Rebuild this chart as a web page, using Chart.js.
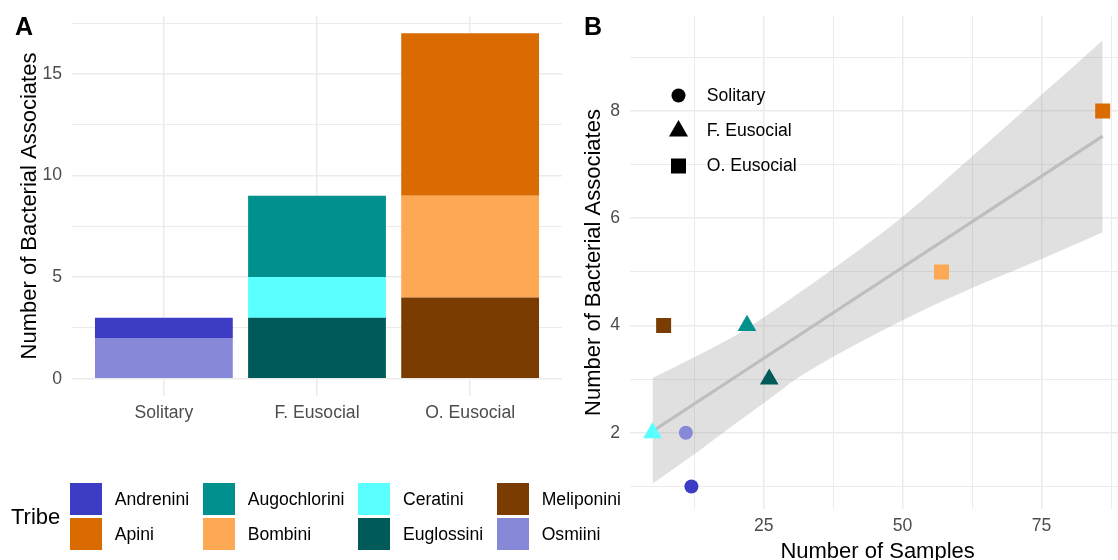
<!DOCTYPE html>
<html><head><meta charset="utf-8">
<script src="https://cdn.jsdelivr.net/npm/chart.js@4.4.1/dist/chart.umd.min.js"></script>
<style>
html,body{margin:0;padding:0;background:#fff;}
body{width:1118px;height:560px;overflow:hidden;position:relative;font-family:"Liberation Sans",Arial,sans-serif;}
#cA{position:absolute;left:0;top:0;}
#cB{position:absolute;left:570px;top:0;}
.tag{position:absolute;font-weight:bold;font-size:25px;line-height:25px;color:#000;}
#legA{position:absolute;left:11px;top:483px;display:flex;align-items:center;color:#000;}
#legA .ttl{font-size:22px;margin-right:10px;}
#legA .grid{display:grid;grid-template-rows:32.3px 32.3px;row-gap:2.7px;grid-auto-flow:column;column-gap:14px;}
#legA .item{display:flex;align-items:center;font-size:17.6px;}
#legA .key{width:32px;height:32.3px;margin-right:12.5px;}
</style></head>
<body>
<canvas id="cA" width="570" height="440"></canvas>
<canvas id="cB" width="566" height="566"></canvas>
<div class="tag" style="left:15px;top:14px;">A</div>
<div class="tag" style="left:584px;top:14px;">B</div>
<div id="legA"></div>
<script>
// ---------- data ----------
const tribes = ['Andrenini','Apini','Augochlorini','Bombini','Ceratini','Euglossini','Meliponini','Osmiini'];
const tribeColors = ['#3C3CC4','#D96B00','#00918E','#FDA852','#5AFFFF','#005A5A','#7A3C00','#8888D8'];
const socialityCats = ['Solitary','F. Eusocial','O. Eusocial'];
const socialityShapes = ['circle','triangle','rect'];

// bacterial associates per tribe, by sociality [Solitary, F. Eusocial, O. Eusocial]
const countsAndrenini    = [1,0,0];
const countsApini        = [0,0,8];
const countsAugochlorini = [0,4,0];
const countsBombini      = [0,0,5];
const countsCeratini     = [0,2,0];
const countsEuglossini   = [0,3,0];
const countsMeliponini   = [0,0,4];
const countsOsmiini      = [2,0,0];
const tribeCounts = [countsAndrenini,countsApini,countsAugochlorini,countsBombini,countsCeratini,countsEuglossini,countsMeliponini,countsOsmiini];

// panel B: per tribe
const tribeSociality = ['Solitary','O. Eusocial','F. Eusocial','O. Eusocial','F. Eusocial','F. Eusocial','O. Eusocial','Solitary'];
const tribeSamples   = [12, 86, 22, 57, 5, 26, 7, 11];
const tribeAssociates= [1, 8, 4, 5, 2, 3, 4, 2];

// fitted line and confidence band
const fitX = [5, 86];
const fitY = [2.03, 7.53];
const bandX     = [5,    12.5, 20,   25,   31.25, 37.5, 50,   62.5, 75,   86];
const bandUpper = [3.02, 3.41, 3.82, 4.15, 4.6,   5.06, 6.03, 7.15, 8.3,  9.32];
const bandLower = [1.05, 1.6,  2.18, 2.55, 3.03,  3.42, 4.1,  4.7,  5.24, 5.74];

// ticks
const yMajorA = [0,5,10,15];
const yMinorA = [2.5,7.5,12.5,17.5];
const xMajorB = [25,50,75];
const xMinorB = [12.5,37.5,62.5,87.5];
const yMajorB = [2,4,6,8];
const yMinorB = [1,3,5,7,9];

// ---------- style ----------
const FAM = '"Liberation Sans", Arial, sans-serif';
Chart.defaults.font.family = FAM;
const GRID = '#EBEBEB';
const TICKC = '#4D4D4D';
const sortNum = a => a.slice().sort((p,q)=>p-q);
const noPad = s => { s.paddingTop = 0; s.paddingBottom = 0; s.paddingLeft = 0; s.paddingRight = 0; };

// ---------- panel A ----------
const barDatasets = tribes.map((t,i)=>({
  label: t,
  data: tribeCounts[i].map((v,j)=>({x:j+1, y:v})),
  backgroundColor: tribeColors[i],
  borderWidth: 0
})).reverse();

new Chart(document.getElementById('cA'), {
  type: 'bar',
  data: { datasets: barDatasets },
  options: {
    responsive:false, animation:false,
    layout:{padding:{top:16,right:8,left:0,bottom:0}},
    plugins:{legend:{display:false}, tooltip:{enabled:false}},
    datasets:{bar:{barPercentage:0.9, categoryPercentage:1}},
    scales:{
      x:{type:'linear', stacked:true, min:0.4, max:3.6, offset:false,
        grid:{offset:false, color:GRID, lineWidth:1.5, drawTicks:false},
        border:{display:false},
        afterBuildTicks: s => { s.ticks = socialityCats.map((c,i)=>({value:i+1})); },
        ticks:{autoSkip:false, maxRotation:0, padding:7, color:TICKC, font:{size:17.6},
          callback: v => socialityCats[v-1]},
        afterFit: s => { s.height = 44; noPad(s); }
      },
      y:{stacked:true, min:-0.85, max:17.85,
        grid:{color:GRID, lineWidth: c => yMajorA.includes(c.tick && c.tick.value) ? 1.5 : 1.0, drawTicks:false},
        border:{display:false},
        afterBuildTicks: s => { s.ticks = sortNum(yMajorA.concat(yMinorA)).map(v=>({value:v})); },
        ticks:{autoSkip:false, padding:10, color:TICKC, font:{size:17.6},
          callback: v => yMajorA.includes(v) ? String(v) : ''},
        title:{display:true, text:'Number of Bacterial Associates', color:'#000', font:{size:22}, padding:{top:17,bottom:0}},
        afterFit: s => { s.width = 72; noPad(s); }
      }
    }
  }
});

// legend A (HTML, from the data arrays)
const leg = document.getElementById('legA');
const ttl = document.createElement('div'); ttl.className='ttl'; ttl.textContent='Tribe'; leg.appendChild(ttl);
const grid = document.createElement('div'); grid.className='grid'; leg.appendChild(grid);
tribes.forEach((t,i)=>{
  const it = document.createElement('div'); it.className='item';
  const k = document.createElement('div'); k.className='key'; k.style.background = tribeColors[i];
  const s = document.createElement('span'); s.textContent = t;
  it.appendChild(k); it.appendChild(s); grid.appendChild(it);
});

// ---------- panel B ----------
const radiusByShape = {circle:7, triangle:10.8, rect:10.6};
const pointDatasets = tribes.map((t,i)=>{
  const shape = socialityShapes[socialityCats.indexOf(tribeSociality[i])];
  return {
    type:'scatter', label:t, order:0,
    data:[{x:tribeSamples[i], y:tribeAssociates[i]}],
    pointStyle: shape, pointRadius: radiusByShape[shape],
    backgroundColor: tribeColors[i], borderWidth:0, pointBorderWidth:0
  };
});
const fitDataset = {
  type:'line', label:'fit', order:1, showLine:true,
  data: fitX.map((x,i)=>({x, y:fitY[i]})),
  borderColor:'#BEBEBE', borderWidth:3.2, pointRadius:0, fill:false
};
const bandUpperDs = {
  type:'line', label:'upper', order:2, showLine:true,
  data: bandX.map((x,i)=>({x, y:bandUpper[i]})),
  borderWidth:0, borderColor:'rgba(0,0,0,0)', pointRadius:0,
  cubicInterpolationMode:'monotone',
  fill:'+1', backgroundColor:'rgba(153,153,153,0.3)'
};
const bandLowerDs = {
  type:'line', label:'lower', order:2, showLine:true,
  data: bandX.map((x,i)=>({x, y:bandLower[i]})),
  borderWidth:0, borderColor:'rgba(0,0,0,0)', pointRadius:0,
  cubicInterpolationMode:'monotone', fill:false
};

const shapeLegend = {
  id:'shapeLegend',
  afterDatasetsDraw(chart){
    const {ctx, chartArea} = chart;
    const offs = [79.5, 115, 150];
    ctx.save();
    socialityCats.forEach((cat,i)=>{
      const x = chartArea.left + 48.5, y = chartArea.top + offs[i];
      const shape = socialityShapes[i];
      const r = {circle:7, triangle:11, rect:10.6}[shape];
      ctx.fillStyle = '#000';
      Chart.helpers.drawPoint(ctx, {pointStyle:shape, radius:r, rotation:0, borderWidth:0}, x, y);
      ctx.font = '17.6px ' + FAM;
      ctx.textBaseline = 'middle';
      ctx.textAlign = 'left';
      ctx.fillText(cat, chartArea.left + 76.7, chartArea.top + [80,115,150][i]);
    });
    ctx.restore();
  }
};

new Chart(document.getElementById('cB'), {
  type:'scatter',
  data:{ datasets: pointDatasets.concat([fitDataset, bandUpperDs, bandLowerDs]) },
  options:{
    responsive:false, animation:false,
    layout:{padding:{top:16,right:7,left:0,bottom:0}},
    plugins:{legend:{display:false}, tooltip:{enabled:false}},
    scales:{
      x:{type:'linear', min:0.95, max:90.05,
        grid:{color:GRID, lineWidth: c => xMajorB.includes(c.tick && c.tick.value) ? 1.5 : 1.0, drawTicks:false},
        border:{display:false},
        afterBuildTicks: s => { s.ticks = sortNum(xMajorB.concat(xMinorB)).map(v=>({value:v})); },
        ticks:{autoSkip:false, maxRotation:0, padding:7, color:TICKC, font:{size:17.6},
          callback: v => xMajorB.includes(v) ? String(v) : ''},
        title:{display:true, text:'Number of Samples', color:'#000', font:{size:22}, padding:{top:0,bottom:1}},
        afterFit: s => { s.height = 57; noPad(s); }
      },
      y:{type:'linear', min:0.58, max:9.77,
        grid:{color:GRID, lineWidth: c => yMajorB.includes(c.tick && c.tick.value) ? 1.5 : 1.0, drawTicks:false},
        border:{display:false},
        afterBuildTicks: s => { s.ticks = sortNum(yMajorB.concat(yMinorB)).map(v=>({value:v})); },
        ticks:{autoSkip:false, padding:10, color:TICKC, font:{size:17.6},
          callback: v => yMajorB.includes(v) ? String(v) : ''},
        title:{display:true, text:'Number of Bacterial Associates', color:'#000', font:{size:22}, padding:{top:10.8,bottom:0}},
        afterFit: s => { s.width = 60; noPad(s); }
      }
    }
  },
  plugins:[shapeLegend]
});
</script>
</body></html>
